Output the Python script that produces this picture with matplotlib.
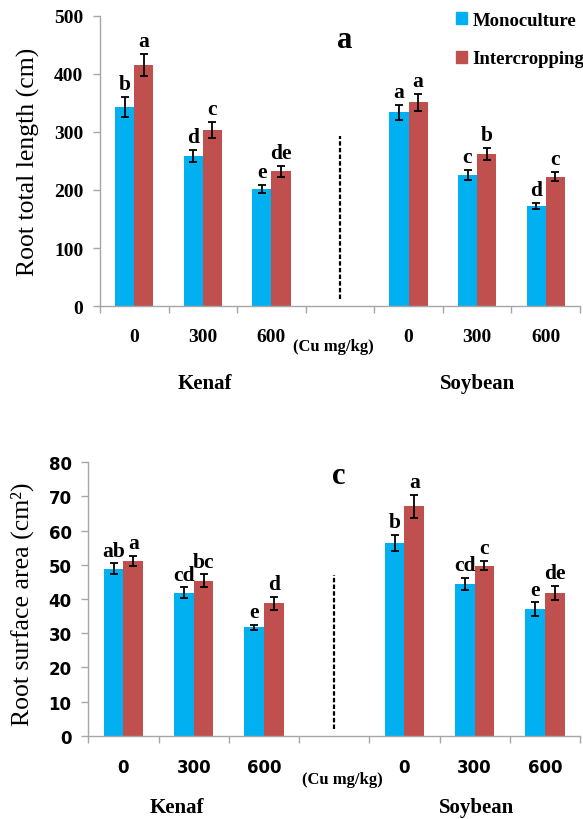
import matplotlib
matplotlib.use("Agg")
import matplotlib.pyplot as plt
import numpy as np
from matplotlib.patches import Patch
from matplotlib.transforms import blended_transform_factory

plt.rcParams['font.family'] = ['Liberation Serif', 'DejaVu Serif']

doses = ["0", "300", "600", "0", "300", "600"]
crops = ["Kenaf", "Soybean"]

# root total length (cm): kenaf 0/300/600, soybean 0/300/600
len_mono = [343, 259, 202, 334, 226, 173]
len_mono_err = [18, 10, 7, 13, 8, 5]
len_inter = [416, 303, 232, 351, 262, 223]
len_inter_err = [19, 14, 10, 15, 10, 8]
len_mono_lab = ["b", "d", "e", "a", "c", "d"]
len_inter_lab = ["a", "c", "de", "a", "b", "c"]

# root surface area (cm2)
area_mono = [48.8, 41.8, 31.7, 56.4, 44.4, 37.0]
area_mono_err = [1.6, 1.6, 0.8, 2.3, 1.8, 2.0]
area_inter = [51.2, 45.4, 38.8, 67.1, 49.8, 41.8]
area_inter_err = [1.5, 1.8, 1.9, 3.4, 1.3, 2.0]
area_mono_lab = ["ab", "cd", "e", "b", "cd", "e"]
area_inter_lab = ["a", "bc", "d", "a", "c", "de"]

blue = "#00B0F0"
red = "#C0504D"
gray = "#A6A6A6"
x = np.array([0, 1, 2, 4, 5, 6])
w = 0.28


def panel(ax, mono, mono_err, inter, inter_err, lab_m, lab_i, ymax, step,
          tickfont, ticksize, xpad):
    ekw = dict(elinewidth=1.3, capthick=1.3, ecolor="black")
    ax.bar(x - w / 2, mono, w, color=blue, yerr=mono_err, capsize=3, error_kw=ekw)
    ax.bar(x + w / 2, inter, w, color=red, yerr=inter_err, capsize=3, error_kw=ekw)
    for xi, v, e, s in zip(x - w / 2, mono, mono_err, lab_m):
        ax.annotate(s, (xi, v + e), xytext=(0, 2), textcoords="offset points",
                    ha="center", va="bottom", fontsize=15.5, weight="bold")
    for xi, v, e, s in zip(x + w / 2, inter, inter_err, lab_i):
        ax.annotate(s, (xi, v + e), xytext=(0, 2), textcoords="offset points",
                    ha="center", va="bottom", fontsize=15.5, weight="bold")
    ax.set_xlim(-0.5, 6.5)
    ax.set_ylim(0, ymax)
    ax.set_yticks(np.arange(0, ymax + 1, step))
    ax.set_xticks(x)
    ax.set_xticklabels(doses)
    ax.set_xticks(np.arange(-0.5, 7, 1), minor=True)
    ax.tick_params(axis="x", which="major", length=0, pad=xpad)
    ax.tick_params(axis="x", which="minor", length=5, color=gray, width=1)
    ax.tick_params(axis="y", length=5, color=gray, width=1, pad=7)
    for lab in ax.get_xticklabels() + ax.get_yticklabels():
        lab.set_family(tickfont)
        lab.set_weight("bold")
        lab.set_fontsize(ticksize)
    for s in ["top", "right"]:
        ax.spines[s].set_visible(False)
    for s in ["left", "bottom"]:
        ax.spines[s].set_color(gray)
        ax.spines[s].set_linewidth(1)


fig = plt.figure(figsize=(5.83, 8.2), dpi=100)
ax1 = fig.add_axes([0.1715, 0.6256, 0.8234, 0.3537])
ax2 = fig.add_axes([0.1515, 0.1016, 0.8434, 0.3334])

panel(ax1, len_mono, len_mono_err, len_inter, len_inter_err,
      len_mono_lab, len_inter_lab, 500, 100, "Liberation Serif", 14, 16)
panel(ax2, area_mono, area_mono_err, area_inter, area_inter_err,
      area_mono_lab, area_inter_lab, 80, 10, "DejaVu Sans", 12, 16)

ax1.plot([3, 3], [12, 293], color="black", lw=1.6, ls=(0, (2, 1)))
ax2.plot([3, 3], [2, 47], color="black", lw=1.6, ls=(0, (2, 1)))

ax1.text(3.07, 460, "a", fontsize=22, weight="bold", ha="center", va="center")
ax2.text(3.06, 76, "c", fontsize=22, weight="bold", ha="center", va="center")

t1 = blended_transform_factory(ax1.transData, ax1.transAxes)
t2 = blended_transform_factory(ax2.transData, ax2.transAxes)
ax1.text(1.03, -0.266, crops[0], transform=t1, fontsize=15, weight="bold",
         ha="center", va="center")
ax1.text(5.0, -0.266, crops[1], transform=t1, fontsize=15, weight="bold",
         ha="center", va="center")
ax1.text(2.9, -0.138, "(Cu mg/kg)", transform=t1, fontsize=12, weight="bold",
         ha="center", va="center")
ax2.text(0.76, -0.261, crops[0], transform=t2, fontsize=15, weight="bold",
         ha="center", va="center")
ax2.text(5.03, -0.261, crops[1], transform=t2, fontsize=15, weight="bold",
         ha="center", va="center")
ax2.text(3.12, -0.158, "(Cu mg/kg)", transform=t2, fontsize=12, weight="bold",
         ha="center", va="center")

fig.text(28 / 583, 1 - 162 / 820, "Root total length (cm)", rotation=90,
         ha="center", va="center", fontsize=18.5)
fig.text(22 / 583, 1 - 604 / 820, "Root surface area (cm²)", rotation=90,
         ha="center", va="center", fontsize=18.5)

handles = [Patch(color=blue, label="Monoculture"),
           Patch(color=red, label="Intercropping")]
fig.legend(handles=handles, loc="upper left", bbox_to_anchor=(452 / 583, 1 - 9 / 820),
           frameon=False, handlelength=0.6, handleheight=0.6, handletextpad=0.3,
           labelspacing=1.15, borderaxespad=0, borderpad=0.2,
           prop=dict(family="Liberation Serif", weight="bold", size=13.5))

fig.savefig("out.png", dpi=100)
